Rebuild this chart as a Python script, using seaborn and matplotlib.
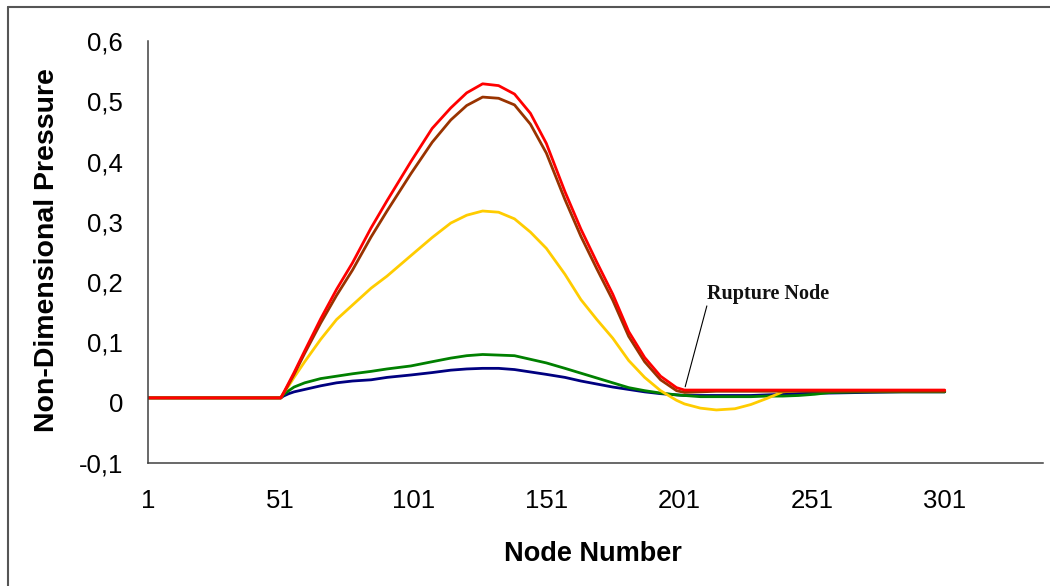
import matplotlib
matplotlib.use("Agg")
import matplotlib.pyplot as plt
import seaborn as sns
import pandas as pd
from matplotlib.lines import Line2D

# ---------------- data ----------------
nodes = [1, 51, 52, 54, 56, 60, 66, 72, 78, 85, 91, 100, 108, 115, 121, 127, 133, 139,
         145, 151, 158, 164, 170, 176, 182, 188, 194, 200, 203, 209, 215, 222, 228, 234,
         240, 246, 252, 258, 270, 285, 301]

red = [0.008, 0.008, 0.016, 0.033, 0.050, 0.086, 0.139, 0.188, 0.232, 0.290, 0.335, 0.400,
       0.455, 0.489, 0.514, 0.529, 0.526, 0.512, 0.480, 0.430, 0.350, 0.288, 0.233, 0.180,
       0.118, 0.075, 0.044, 0.025, 0.021, 0.021, 0.021, 0.021, 0.021, 0.021, 0.021, 0.021,
       0.021, 0.021, 0.021, 0.021, 0.021]

brown = [0.008, 0.008, 0.015, 0.031, 0.047, 0.082, 0.132, 0.178, 0.220, 0.275, 0.318, 0.380,
         0.432, 0.469, 0.493, 0.507, 0.505, 0.494, 0.462, 0.414, 0.337, 0.276, 0.222, 0.170,
         0.110, 0.068, 0.038, 0.020, 0.017, 0.018, 0.019, 0.019, 0.019, 0.019, 0.019, 0.019,
         0.019, 0.019, 0.019, 0.019, 0.019]

yellow = [0.008, 0.008, 0.016, 0.028, 0.042, 0.068, 0.105, 0.138, 0.162, 0.190, 0.210, 0.244,
          0.274, 0.298, 0.311, 0.318, 0.316, 0.305, 0.283, 0.256, 0.213, 0.171, 0.138, 0.107,
          0.070, 0.042, 0.020, 0.004, -0.002, -0.009, -0.012, -0.010, -0.003, 0.007, 0.018,
          0.020, 0.020, 0.020, 0.020, 0.020, 0.020]

green = [0.008, 0.008, 0.013, 0.020, 0.026, 0.033, 0.040, 0.044, 0.048, 0.052, 0.056, 0.061,
         0.068, 0.074, 0.078, 0.080, 0.079, 0.078, 0.072, 0.066, 0.057, 0.049, 0.041, 0.033,
         0.025, 0.020, 0.016, 0.013, 0.012, 0.010, 0.010, 0.010, 0.010, 0.011, 0.011, 0.012,
         0.014, 0.017, 0.018, 0.018, 0.018]

blue = [0.008, 0.008, 0.011, 0.015, 0.018, 0.022, 0.028, 0.033, 0.036, 0.038, 0.042, 0.046,
        0.050, 0.054, 0.056, 0.057, 0.057, 0.055, 0.051, 0.047, 0.042, 0.036, 0.031, 0.026,
        0.022, 0.018, 0.015, 0.013, 0.012, 0.012, 0.012, 0.012, 0.012, 0.013, 0.014, 0.015,
        0.016, 0.016, 0.017, 0.018, 0.018]

x_ticks = [1, 51, 101, 151, 201, 251, 301]
y_ticks = [-0.1, 0.0, 0.1, 0.2, 0.3, 0.4, 0.5, 0.6]
y_tick_labels = ["-0,1", "0", "0,1", "0,2", "0,3", "0,4", "0,5", "0,6"]

series = [("blue", blue, "#000080"),
          ("green", green, "#008000"),
          ("yellow", yellow, "#FFCC00"),
          ("brown", brown, "#993300"),
          ("red", red, "#FF0000")]

# ---------------- style ----------------
sns.set_style("white")
plt.rcParams["font.family"] = ["Liberation Sans", "DejaVu Sans"]

fig = plt.figure(figsize=(10.5, 5.86), dpi=100)
ax = fig.add_axes([148 / 1050, 1 - 463 / 586, (1043 - 148) / 1050, (463 - 41) / 586])

for name, vals, col in series:
    df = pd.DataFrame({"node": nodes, "value": vals})
    sns.lineplot(data=df, x="node", y="value", color=col, linewidth=2.0,
                 estimator=None, sort=False, ax=ax)

ax.set_xlim(1, 338)
ax.set_ylim(-0.1, 0.6)
ax.set_xticks(x_ticks)
ax.set_xticklabels([str(t) for t in x_ticks])
ax.set_yticks(y_ticks)
ax.set_yticklabels(y_tick_labels)

for s in ["top", "right"]:
    ax.spines[s].set_visible(False)
for s in ["left", "bottom"]:
    ax.spines[s].set_color("#404040")
    ax.spines[s].set_linewidth(1.1)

ax.tick_params(axis="both", direction="out", length=6, width=1.1, color="#404040",
               labelsize=18.5, labelcolor="#000000")
ax.tick_params(axis="x", pad=13)
ax.tick_params(axis="y", pad=12)

ax.set_xlabel("Node Number", fontsize=19.5, fontweight="bold", color="#000000")
ax.set_ylabel("Non-Dimensional Pressure", fontsize=20.5, fontweight="bold", color="#000000")
ax.xaxis.set_label_coords(0.497, -0.185)
ax.yaxis.set_label_coords(-0.098, 0.505)

# annotation
ax.text(211.3, 0.172, "Rupture Node", family=["Liberation Serif", "DejaVu Serif"],
        fontsize=14.5, fontweight="bold", ha="left", va="baseline", color="#111111")
ax.annotate("", xy=(203, 0.022), xytext=(211.7, 0.165),
            arrowprops=dict(arrowstyle="-", color="black", lw=0.8))

# figure frame (top and left edges visible)
fig.add_artist(Line2D([8 / 1050, 1.0], [1 - 7 / 586, 1 - 7 / 586],
                      transform=fig.transFigure, color="#555555", lw=1.5))
fig.add_artist(Line2D([8 / 1050, 8 / 1050], [0.0, 1 - 7 / 586],
                      transform=fig.transFigure, color="#555555", lw=1.5))

fig.savefig("out.png", dpi=100)
